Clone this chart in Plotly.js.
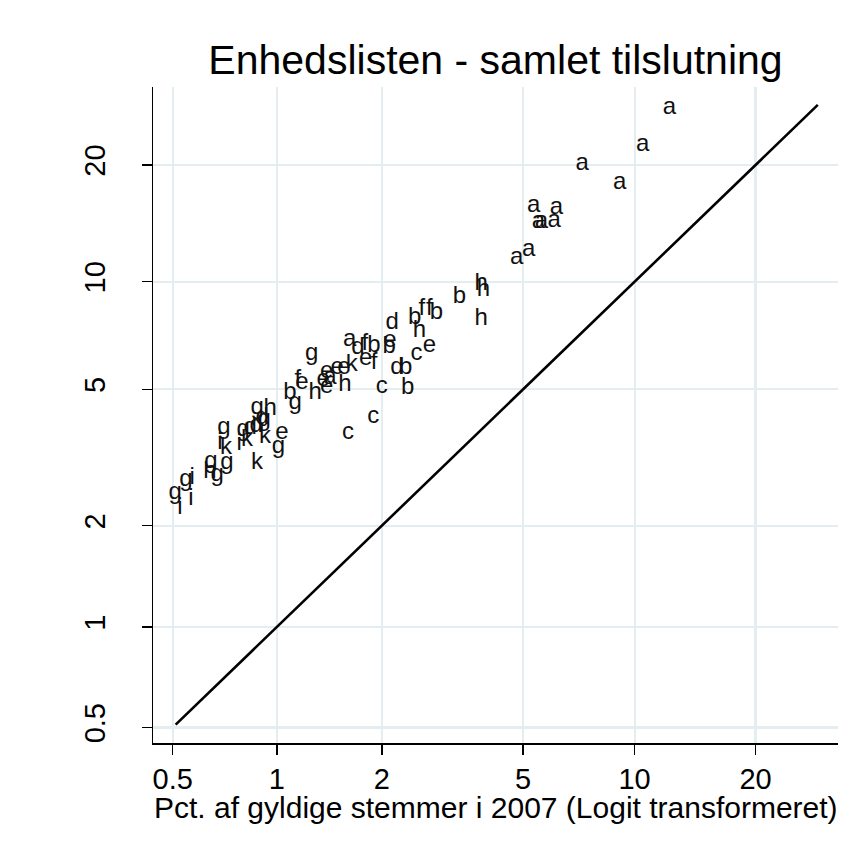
<!DOCTYPE html>
<html>
<head>
<meta charset="utf-8">
<script src="https://cdn.plot.ly/plotly-3.0.1.min.js"></script>
<style>
html,body{margin:0;padding:0;background:#fff;}
#chart{width:855px;height:857px;}
</style>
</head>
<body>
<div id="chart"></div>
<script>
// Region letters (marker labels)
const labels = [
  "a","a","a","a","a","a","a","a","a","a","a","a","a",
  "h","h","h","h","h","h","h","h",
  "b","b","b","b","b","b","b","b",
  "c","c","c","c",
  "d","d","d","d","d","d",
  "e","e","e","e","e","e","e","e","e","e",
  "f","f","f","f","f",
  "g","g","g","g","g","g","g","g","g","g","g","g",
  "i","i","i","i","i",
  "k","k","k","k","k"
];
// Pct. of valid votes in 2007 (x)
const pct2007 = [
  12.3,10.5,7.25,9.13,5.35,6.17,5.51,5.62,6.09,5.18,4.80,1.62,1.42,
  3.82,3.88,3.82,2.56,1.57,1.29,0.641,0.957,
  3.32,2.48,2.86,1.90,2.10,2.34,2.37,1.09,
  2.51,2.00,1.89,1.60,
  2.14,2.21,1.71,0.837,0.907,0.871,
  2.73,2.11,1.80,1.56,1.49,1.39,1.36,1.39,1.18,1.035,
  2.60,2.73,1.79,1.90,1.15,
  1.26,1.13,0.508,0.546,0.645,0.672,0.718,0.704,0.799,0.877,1.01,0.919,
  0.525,0.569,0.565,0.685,0.778,
  0.713,0.820,0.925,0.877,1.64
];
// Total support (y)
const support = [
  27.1,22.3,20.1,18.1,15.8,15.6,14.4,14.4,14.5,12.2,11.6,6.91,5.37,
  9.85,9.48,7.91,7.33,5.14,4.88,2.88,4.38,
  9.06,7.97,8.23,6.65,6.61,5.77,5.06,4.88,
  6.32,5.07,4.16,3.73,
  7.71,5.74,6.57,3.86,4.13,3.91,
  6.65,6.87,6.12,5.74,5.76,5.59,5.31,5.07,5.21,3.73,
  8.44,8.44,6.74,5.96,5.31,
  6.32,4.56,2.50,2.73,3.08,2.82,3.06,3.86,3.81,4.41,3.40,4.07,
  2.26,2.77,2.40,3.49,3.47,
  3.38,3.56,3.64,3.06,5.85
];
// 45-degree reference line (x = y)
const refLine = [0.51, 27.5];
const tickValues = [0.5, 1, 2, 5, 10, 20];
const tickLabels = ["0.5", "1", "2", "5", "10", "20"];

function logit(p){ const q = p/100; return Math.log(q/(1-q)); }

const FONT = "Liberation Sans, Arial, Helvetica, sans-serif";

const traces = [
  {
    type: "scatter", mode: "lines",
    x: refLine.map(logit), y: refLine.map(logit),
    line: {color: "#000", width: 2.6},
    hoverinfo: "skip", cliponaxis: false
  },
  {
    type: "scatter", mode: "text",
    x: pct2007.map(logit), y: support.map(logit),
    text: labels, textposition: "middle center",
    textfont: {family: FONT, size: 24, color: "#111"},
    hoverinfo: "skip", cliponaxis: false
  }
];

const axisCommon = {
  tickmode: "array",
  tickvals: tickValues.map(logit),
  ticktext: tickLabels,
  showgrid: true, gridcolor: "#e4eef1", gridwidth: 2.2,
  zeroline: false,
  showline: true, linecolor: "#000", linewidth: 1.5,
  ticks: "outside", ticklen: 10, tickwidth: 1.5, tickcolor: "#000",
  tickfont: {family: FONT, size: 29, color: "#000"},
  fixedrange: true
};

const layout = {
  width: 855, height: 857,
  margin: {l: 153, r: 17, t: 87, b: 114},
  paper_bgcolor: "#fff", plot_bgcolor: "#fff",
  showlegend: false, hovermode: false,
  title: {
    text: "Enhedslisten - samlet tilslutning",
    font: {family: FONT, size: 41, color: "#000"},
    x: 0.5, xref: "paper", xanchor: "center",
    y: 1 - 60/857, yref: "container", yanchor: "middle"
  },
  xaxis: Object.assign({}, axisCommon, {
    range: [-5.4253, -0.834],
    ticklabelstandoff: 0
  }),
  yaxis: Object.assign({}, axisCommon, {
    range: [-5.4007, -0.845],
    tickangle: -90,
    ticklabelstandoff: 25
  }),
  annotations: [{
    text: "Pct. af gyldige stemmer i 2007 (Logit transformeret)",
    font: {family: FONT, size: 30, color: "#000"},
    xref: "paper", yref: "paper",
    x: 0.5, xanchor: "center",
    y: (743 - 807) / 656, yanchor: "middle",
    showarrow: false
  }]
};

Plotly.newPlot("chart", traces, layout, {displayModeBar: false, staticPlot: true});
</script>
</body>
</html>
